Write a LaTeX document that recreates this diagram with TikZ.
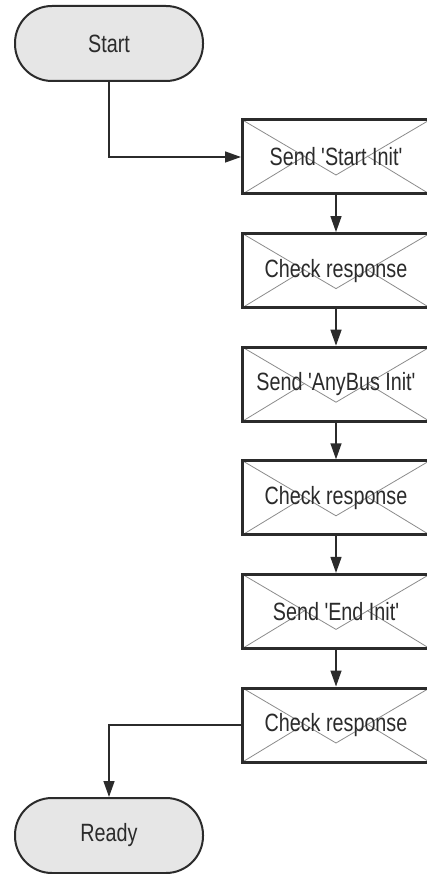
\documentclass[tikz,border=0pt]{standalone}
\usepackage{fontspec}
\setmainfont{Liberation Sans}[FakeStretch=0.79, Ligatures=TeXOff]
\usetikzlibrary{arrows.meta}
\definecolor{inkgray}{HTML}{2B2B2B}
\definecolor{termfill}{HTML}{E6E6E6}
\definecolor{flapgray}{HTML}{8C8C8C}
\tikzset{
  terminal/.style={draw=inkgray, line width=2pt, fill=termfill,
    minimum width=188pt, minimum height=75pt, rounded corners=37pt,
    text=inkgray, font=\fontsize{25}{28}\selectfont, inner sep=0pt},
  envelope/.style={draw=inkgray, line width=3pt, fill=white,
    minimum width=187pt, minimum height=74pt, inner sep=0pt,
    text=inkgray, font=\fontsize{25}{28}\selectfont,
    path picture={
      \draw[flapgray, line width=0.8pt]
        (path picture bounding box.north west)
        -- ([shift={(0,-18)}]path picture bounding box.center)
        -- (path picture bounding box.north east);
      \draw[flapgray, line width=0.8pt]
        (path picture bounding box.south west)
        -- ([shift={(-31,1)}]path picture bounding box.center);
      \draw[flapgray, line width=0.8pt]
        (path picture bounding box.south east)
        -- ([shift={(31,1)}]path picture bounding box.center);
    }},
  conn/.style={draw=inkgray, line width=1.4pt,
    -{Triangle[length=16pt,width=11pt]}},
}
\begin{document}
\begin{tikzpicture}[x=1pt,y=1pt]
  \useasboundingbox (0,0) rectangle (427,-874);

  \node[terminal] (start) at (109,-43.5) {Start};
  \node[envelope] (b1) at (336,-157)   {Send 'Start Init'};
  \node[envelope] (b2) at (336,-270.6) {Check response};
  \node[envelope] (b3) at (336,-384.2) {Send 'AnyBus Init'};
  \node[envelope] (b4) at (336,-497.8) {Check response};
  \node[envelope] (b5) at (336,-611.4) {Send 'End Init'};
  \node[envelope] (b6) at (336,-725)   {Check response};
  \node[terminal] (ready) at (109,-835.5) {Ready};

  \draw[conn] (start.south) |- (b1.west);
  \draw[conn] (b1.south) -- (b2.north);
  \draw[conn] (b2.south) -- (b3.north);
  \draw[conn] (b3.south) -- (b4.north);
  \draw[conn] (b4.south) -- (b5.north);
  \draw[conn] (b5.south) -- (b6.north);
  \draw[conn] (b6.west) -| (ready.north);
\end{tikzpicture}
\end{document}
